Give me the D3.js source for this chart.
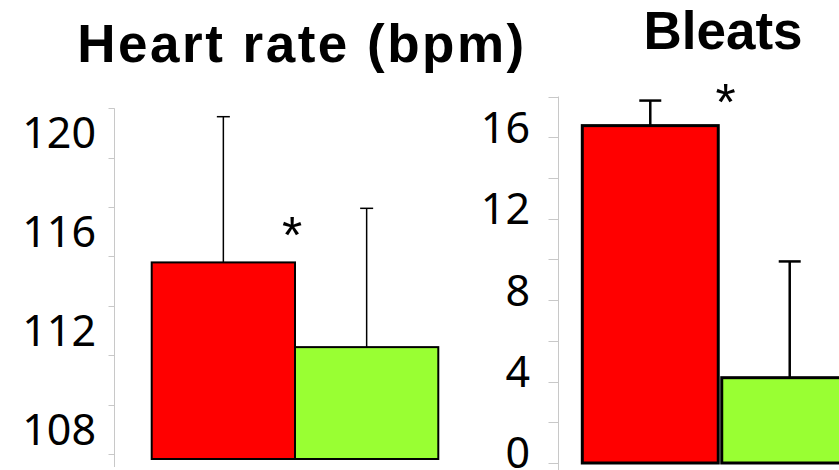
<!DOCTYPE html>
<html>
<head>
<meta charset="utf-8">
<script src="https://cdn.jsdelivr.net/npm/d3@7"></script>
<style>
  body { margin: 0; background: #fff; }
  svg { display: block; }
  .title { font-family: "Liberation Sans", Arial, sans-serif; font-weight: bold; font-size: 53px; }
  .tick-label { font-family: "Noto Sans", sans-serif; font-size: 43px; fill: #000; }
  .star { font-family: "Liberation Sans", Arial, sans-serif; font-size: 52px; }
</style>
</head>
<body>
<svg width="839" height="470"></svg>
<script>
var groups = ["Treatment", "Control"];
var barColors = ["#ff0000", "#99ff33"];

// heart rate panel
var heartMean = [114.76, 111.33];
var heartErr = [5.9, 5.62];
var heartLabels = [108, 112, 116, 120];
var heartTicks = [107, 109, 111, 113, 115, 117, 119, 121];
var heartStar = 116.3;

// bleats panel
var bleatMean = [16.57, 4.19];
var bleatErr = [1.23, 5.71];
var bleatLabels = [0, 4, 8, 12, 16];
var bleatTicks = [0, 2, 4, 6, 8, 10, 12, 14, 16, 18];
var bleatStar = 18.25;

var svg = d3.select("svg");

function panel(opt) {
  var g = svg.append("g");
  var y = d3.scaleLinear().domain(opt.domain).range(opt.yRange);
  var x = d3.scaleBand().domain(groups).range(opt.xRange)
      .paddingInner(opt.pad).paddingOuter(0);
  var base = y(opt.domain[0]);

  // axis line + ticks
  g.append("line")
    .attr("x1", opt.axisX).attr("x2", opt.axisX)
    .attr("y1", y(opt.ticks[opt.ticks.length - 1])).attr("y2", base + 8)
    .attr("stroke", "#c8c8c8").attr("stroke-width", 1);
  g.selectAll(".tk").data(opt.ticks).enter().append("line")
    .attr("x1", opt.axisX - opt.tickLen).attr("x2", opt.axisX)
    .attr("y1", function(d) { return Math.round(y(d)) + 0.5; })
    .attr("y2", function(d) { return Math.round(y(d)) + 0.5; })
    .attr("stroke", "#c8c8c8").attr("stroke-width", 1);
  g.selectAll(".tick-label").data(opt.labels).enter().append("text")
    .attr("class", "tick-label")
    .attr("x", opt.labelX)
    .attr("y", function(d) { return y(d) + opt.labelShift; })
    .attr("dy", "0.36em")
    .attr("text-anchor", "end")
    .text(function(d) { return d; });

  // error bars (drawn first so bar outline sits on top)
  var eb = g.selectAll(".err").data(groups).enter().append("g");
  eb.append("line")
    .attr("x1", function(d) { return x(d) + x.bandwidth() / 2; })
    .attr("x2", function(d) { return x(d) + x.bandwidth() / 2; })
    .attr("y1", function(d, i) { return y(opt.mean[i]); })
    .attr("y2", function(d, i) { return y(opt.mean[i] + opt.err[i]); })
    .attr("stroke", "#000").attr("stroke-width", opt.errW);
  eb.append("line")
    .attr("x1", function(d) { return x(d) + x.bandwidth() / 2 - opt.cap; })
    .attr("x2", function(d) { return x(d) + x.bandwidth() / 2 + opt.cap; })
    .attr("y1", function(d, i) { return y(opt.mean[i] + opt.err[i]); })
    .attr("y2", function(d, i) { return y(opt.mean[i] + opt.err[i]); })
    .attr("stroke", "#000").attr("stroke-width", opt.errW);

  g.selectAll(".bar").data(groups).enter().append("rect")
    .attr("x", function(d) { return x(d); })
    .attr("y", function(d, i) { return y(opt.mean[i]); })
    .attr("width", x.bandwidth())
    .attr("height", function(d, i) { return base - y(opt.mean[i]); })
    .attr("fill", function(d, i) { return barColors[i]; })
    .attr("stroke", "#000").attr("stroke-width", opt.barW);

  g.append("text").attr("class", "star")
    .attr("x", x(groups[1]) + opt.starDx)
    .attr("y", y(opt.star))
    .attr("dy", "0.55em")
    .attr("text-anchor", "middle")
    .text("*");

  g.append("text").attr("class", "title")
    .attr("x", opt.titleX).attr("y", opt.titleY)
    .attr("text-anchor", "middle")
    .attr("letter-spacing", opt.spacing)
    .text(opt.title);
}

panel({
  title: "Heart rate (bpm)", titleX: 302, titleY: 62, spacing: 2.5,
  domain: [106.8, 121], yRange: [459, 108.3],
  xRange: [151.7, 438.3], pad: 0,
  axisX: 114.5, tickLen: 6, labelX: 96, labelShift: 0,
  ticks: heartTicks, labels: heartLabels,
  mean: heartMean, err: heartErr, star: heartStar, starDx: -3,
  errW: 1.5, cap: 6.5, barW: 2
});

panel({
  title: "Bleats", titleX: 723, titleY: 49, spacing: 0,
  domain: [0, 18], yRange: [463, 96.5],
  xRange: [582.3, 857.7], pad: 0.025,
  axisX: 558.5, tickLen: 10, labelX: 530, labelShift: -10,
  ticks: bleatTicks, labels: bleatLabels,
  mean: bleatMean, err: bleatErr, star: bleatStar, starDx: 4,
  errW: 2.5, cap: 11, barW: 3
});
</script>
</body>
</html>
